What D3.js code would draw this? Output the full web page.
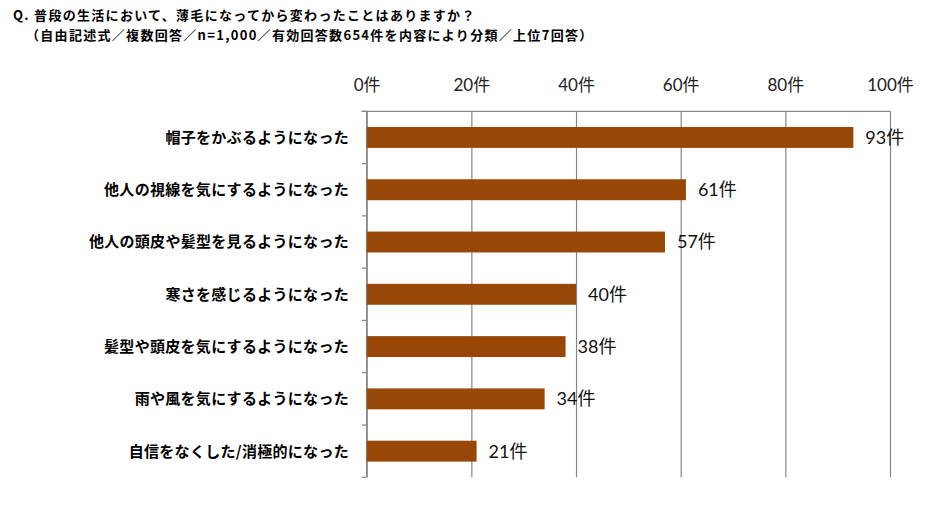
<!DOCTYPE html>
<html>
<head>
<meta charset="utf-8">
<script src="https://cdn.jsdelivr.net/npm/d3@7"></script>
<style>
  body { margin: 0; background: #fff; }
  svg text { font-family: Lato, "Noto Sans CJK JP", sans-serif; }
  .title { font-family: "Noto Sans CJK JP", sans-serif !important; font-weight: 700; font-size: 13px; letter-spacing: 1.3px; fill: #000; }
  .cat { font-family: "Noto Sans CJK JP", sans-serif !important; font-weight: 700; font-size: 15px; letter-spacing: 0.3px; fill: #000; }
</style>
</head>
<body>
<div id="chart"></div>
<script>
// chart data
const categories = [
  '帽子をかぶるようになった',
  '他人の視線を気にするようになった',
  '他人の頭皮や髪型を見るようになった',
  '寒さを感じるようになった',
  '髪型や頭皮を気にするようになった',
  '雨や風を気にするようになった',
  '自信をなくした/消極的になった'
]
const counts = [93, 61, 57, 40, 38, 34, 21]
const xTicks = [0, 20, 40, 60, 80, 100]
const titleLines = [
  'Q. 普段の生活において、薄毛になってから変わったことはありますか？',
  '（自由記述式／複数回答／n=1,000／有効回答数654件を内容により分類／上位7回答）'
]

var width = 931
var height = 507
var plot = {left: 366.7, right: 890, top: 111.3, bottom: 477.3}

var svg = d3.select('#chart').append('svg')
  .attr('width', width)
  .attr('height', height)

svg.selectAll('.title').data(titleLines).enter().append('text')
  .attr('class', 'title')
  .attr('x', (d, i) => i == 0 ? 13 : 26)
  .attr('y', (d, i) => 20 + i * 20)
  .text(d => d)

var x = d3.scaleLinear()
  .domain([0, 100])
  .range([plot.left, plot.right])

var y = d3.scaleBand()
  .domain(categories)
  .range([plot.top, plot.bottom])
  .paddingInner(0.6)
  .paddingOuter(0.3)

// top axis with gridlines
var xAxis = svg.append('g')
  .attr('transform', `translate(0,${plot.top})`)
  .call(d3.axisTop(x).tickValues(xTicks).tickSize(-(plot.bottom - plot.top)).tickFormat(d => d + '件'))

xAxis.select('.domain').remove()
xAxis.selectAll('line').attr('stroke', '#868686').attr('stroke-width', 1.2)
xAxis.selectAll('text')
  .attr('y', -20)
  .attr('fill', '#222')
  .style('font-size', '17px')

svg.append('line')
  .attr('x1', plot.left - 5).attr('x2', plot.right)
  .attr('y1', plot.top).attr('y2', plot.top)
  .attr('stroke', '#868686').attr('stroke-width', 1.2)

// left axis: tick marks between categories
var step = y.step()
var bounds = d3.range(categories.length + 1).map(i => plot.top + i * step)
svg.selectAll('.ytick').data(bounds).enter().append('line')
  .attr('class', 'ytick')
  .attr('x1', plot.left - 5).attr('x2', plot.left)
  .attr('y1', d => d).attr('y2', d => d)
  .attr('stroke', '#868686').attr('stroke-width', 1.2)

svg.append('line')
  .attr('x1', plot.left).attr('x2', plot.left)
  .attr('y1', plot.top).attr('y2', plot.bottom)
  .attr('stroke', '#868686').attr('stroke-width', 1.2)

var rows = categories.map((c, i) => ({cat: c, n: counts[i]}))

svg.selectAll('.bar').data(rows).enter().append('rect')
  .attr('class', 'bar')
  .attr('x', x(0))
  .attr('y', d => y(d.cat))
  .attr('width', d => x(d.n) - x(0))
  .attr('height', y.bandwidth())
  .attr('fill', '#984706')

svg.selectAll('.val').data(rows).enter().append('text')
  .attr('class', 'val')
  .attr('x', d => x(d.n) + 12)
  .attr('y', d => y(d.cat) + y.bandwidth() / 2)
  .attr('dy', '0.36em')
  .attr('fill', '#111')
  .style('font-size', '18px')
  .text(d => d.n + '件')

svg.selectAll('.cat').data(rows).enter().append('text')
  .attr('class', 'cat')
  .attr('x', 349)
  .attr('y', d => y(d.cat) + y.bandwidth() / 2)
  .attr('dy', '0.36em')
  .attr('text-anchor', 'end')
  .text(d => d.cat)
</script>
</body>
</html>
